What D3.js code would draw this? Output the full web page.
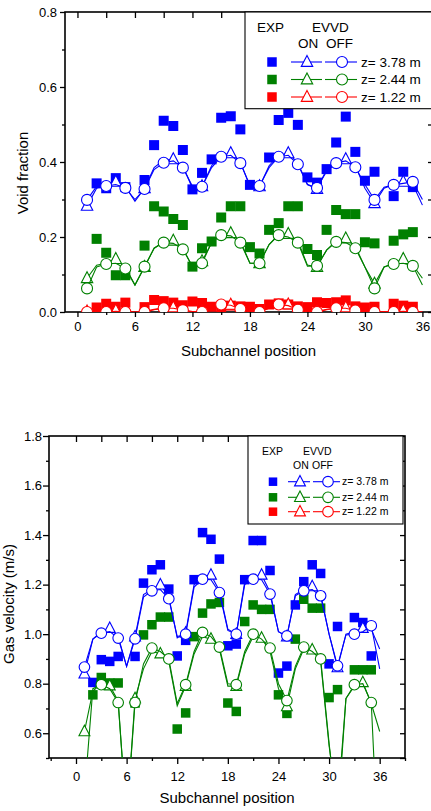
<!DOCTYPE html>
<html>
<head>
<meta charset="utf-8">
<script src="https://cdnjs.cloudflare.com/ajax/libs/d3/7.8.5/d3.min.js"></script>
<style>
body{margin:0;background:#fff;overflow:hidden}
text{font-family:Arial,"Liberation Sans",sans-serif;fill:#000}
</style>
</head>
<body>
<svg id="chart" width="431" height="811"></svg>
<script>
// subchannel positions of the model curves and of the measurements
var modelPos = [1,2,3,4,5,6,7,8,9,10,11,12,13,14,15,16,17,18,19,20,21,22,23,24,25,26,27,28,29,30,31,32,33,34,35,36];
var expPos = [2,3,4,5,7,8,9,10,11,12,13,14,15,16,17,18,19,20,21,22,23,24,25,26,27,28,29,30,31,33,34,35];

var xMajor = [0,6,12,18,24,30,36];
var legendLabels = ["z= 3.78 m","z= 2.44 m","z= 1.22 m"];
var colors = ["#0000ff","#008000","#ff0000"];

// void fraction, measured (null = no point)
var voidExp378 = [0.343,0.33,0.357,0.333,0.352,0.445,0.51,0.496,0.432,0.327,0.371,0.407,0.518,0.522,0.487,0.339,null,0.412,0.512,0.531,0.499,0.359,0.345,0.381,0.452,0.521,0.427,0.35,0.374,0.309,0.374,0.333];
var voidExp244 = [0.195,0.158,0.098,0.098,0.177,0.282,0.268,0.248,0.232,0.121,0.17,0.188,0.252,0.282,0.282,0.173,0.156,0.219,0.237,0.282,0.282,0.168,0.152,0.219,0.272,0.261,0.261,0.186,0.183,0.19,0.207,0.213];
var voidExp122 = [0.012,0.022,0.014,0.025,0.013,0.032,0.029,0.025,0.018,0.028,0.024,0.014,0.013,0.017,0.015,0.014,0.008,0.02,0.023,0.02,0.015,0.013,0.026,0.024,0.026,0.031,0.015,0.012,0.014,0.022,0.017,0.014];

// void fraction, EVVD on / off
var voidOn378 = [0.283,0.33,0.34,0.347,0.335,0.295,0.33,0.385,0.405,0.407,0.39,0.33,0.335,0.39,0.418,0.423,0.4,0.335,0.335,0.39,0.418,0.423,0.397,0.34,0.328,0.38,0.4,0.407,0.39,0.33,0.29,0.33,0.34,0.347,0.34,0.285];
var voidOff378 = [0.299,0.335,0.336,0.34,0.331,0.3,0.328,0.38,0.398,0.403,0.385,0.335,0.334,0.385,0.414,0.418,0.397,0.338,0.336,0.385,0.414,0.418,0.394,0.34,0.331,0.375,0.397,0.403,0.386,0.34,0.299,0.333,0.339,0.343,0.347,0.3];
var voidOn244 = [0.09,0.125,0.13,0.141,0.12,0.072,0.12,0.17,0.187,0.19,0.17,0.12,0.135,0.185,0.207,0.21,0.19,0.13,0.13,0.18,0.207,0.208,0.19,0.125,0.12,0.165,0.19,0.196,0.175,0.12,0.075,0.12,0.13,0.141,0.125,0.09];
var voidOff244 = [0.063,0.12,0.128,0.13,0.116,0.072,0.121,0.17,0.185,0.183,0.167,0.122,0.13,0.185,0.205,0.203,0.185,0.13,0.13,0.18,0.205,0.2,0.185,0.122,0.123,0.165,0.187,0.185,0.17,0.12,0.063,0.12,0.128,0.13,0.123,0.072];
var voidOn122 = [0.001,0.004,0.002,0.004,0.001,0.0,0.002,0.007,0.011,0.012,0.006,0.001,0.002,0.011,0.02,0.019,0.009,0.001,0.001,0.011,0.021,0.02,0.008,0.001,0.001,0.007,0.011,0.012,0.005,0.001,0.0,0.001,0.002,0.004,0.001,0.0];
var voidOff122 = [0.0,0.003,0.0,0.002,0.0,0.0,0.0,0.006,0.01,0.01,0.005,0.0,0.0,0.01,0.02,0.018,0.008,0.0,0.0,0.01,0.02,0.017,0.006,0.0,0.0,0.006,0.01,0.01,0.004,0.0,0.0,0.0,0.0,0.002,0.0,0.0];

// gas velocity, measured
var velExp378 = [0.805,0.897,0.89,0.91,0.91,1.206,1.26,1.28,1.182,0.912,0.975,1.22,1.41,1.383,1.303,0.953,0.96,1.22,1.378,1.378,1.257,0.843,0.871,1.118,1.212,1.28,1.245,0.88,1.031,1.067,1.047,0.912];
var velExp244 = [0.755,0.825,0.803,0.803,0.722,0.997,1.038,1.069,1.069,0.617,0.682,0.99,1.085,1.122,1.128,0.722,0.688,1.051,1.118,1.1,1.1,0.755,0.68,0.98,1.141,1.105,1.105,0.744,0.776,0.856,0.856,0.856];

// gas velocity, EVVD on / off
var velOn378 = [0.84,0.98,1.01,1.024,0.99,0.87,0.99,1.16,1.18,1.199,1.15,0.985,1.005,1.2,1.23,1.239,1.175,1.02,1.0,1.21,1.23,1.239,1.17,1.01,0.99,1.16,1.18,1.192,1.16,1.0,0.865,1.0,1.01,1.024,1.02,0.94];
var velOff378 = [0.867,0.98,1.004,1.01,0.984,0.87,0.981,1.15,1.175,1.18,1.143,0.99,1.0,1.19,1.222,1.22,1.168,1.015,1.0,1.2,1.222,1.22,1.162,1.01,0.993,1.155,1.175,1.18,1.155,1.0,0.872,0.997,1.0,1.01,1.034,0.86];
var velOn244 = [0.607,0.77,0.8,0.792,0.73,0.25,0.74,0.86,0.93,0.921,0.89,0.71,0.79,0.92,0.99,0.98,0.94,0.79,0.79,0.92,0.99,0.984,0.93,0.78,0.708,0.86,0.94,0.937,0.89,0.55,0.3,0.74,0.79,0.805,0.72,0.607];
var velOff244 = [0.35,0.78,0.796,0.78,0.724,0.25,0.724,0.88,0.944,0.93,0.9,0.72,0.796,0.93,1.007,0.99,0.948,0.8,0.796,0.93,1.0,0.98,0.944,0.8,0.732,0.87,0.948,0.93,0.9,0.56,0.25,0.74,0.796,0.8,0.724,0.0];

var svg = d3.select("#chart");

function triPath(s){
  return "M0," + (-0.6*s) + "L" + (0.52*s) + "," + (0.4*s) + "L" + (-0.52*s) + "," + (0.4*s) + "Z";
}

function drawPanel(p){
  var x = d3.scaleLinear().domain(p.xDomain).range([p.left, p.right]);
  var y = d3.scaleLinear().domain(p.yDomain).range([p.bottom, p.top]);
  var g = svg.append("g");
  var clipId = "clip" + p.id;
  svg.append("clipPath").attr("id", clipId).append("rect")
    .attr("x", p.left).attr("y", p.top)
    .attr("width", p.right - p.left).attr("height", p.bottom - p.top);

  // axes
  function axis(gen, tx, ty, len, vals, fmt, pad){
    var a = g.append("g").attr("transform", "translate(" + tx + "," + ty + ")")
      .call(gen.tickValues(vals).tickSize(len).tickSizeOuter(0).tickPadding(pad || 3)
        .tickFormat(fmt || ""));
    a.select(".domain").remove();
    a.selectAll("line").attr("stroke", "#000").attr("stroke-width", 1.3);
    a.selectAll("text").style("font-size", p.tickFont + "px").attr("fill", "#000");
    return a;
  }
  axis(d3.axisLeft(y), p.left, 0, p.majorLen, p.yMajor, d3.format(".1f"), p.yPad);
  axis(d3.axisLeft(y), p.left, 0, 3, p.yMinor);
  axis(d3.axisBottom(x), 0, p.bottom, p.majorLen, xMajor, d3.format("d"), p.xPad);
  axis(d3.axisBottom(x), 0, p.bottom, 3, p.xMinor);
  axis(d3.axisTop(x), 0, p.top, -6, p.topTicks);
  axis(d3.axisRight(y), p.right, 0, -p.rightLen, p.yMajor.concat(p.yMinor));

  g.append("rect").attr("x", p.left).attr("y", p.top)
    .attr("width", p.right - p.left).attr("height", p.bottom - p.top)
    .attr("fill", "none").attr("stroke", "#000").attr("stroke-width", 1.6);

  var plot = svg.append("g").attr("clip-path", "url(#" + clipId + ")");

  // measured points
  p.series.forEach(function(s){
    if (!s.exp) return;
    var pts = expPos.map(function(d, i){ return [d, s.exp[i]]; })
      .filter(function(d){ return d[1] !== null; });
    plot.selectAll(null).data(pts).enter().append("rect")
      .attr("x", function(d){ return x(d[0]) - p.sq/2; })
      .attr("y", function(d){ return y(d[1]) - p.sq/2; })
      .attr("width", p.sq).attr("height", p.sq)
      .attr("fill", s.color);
  });

  var line = d3.line().x(function(d){ return x(d[0]); }).y(function(d){ return y(d[1]); });

  // model curves: EVVD on (triangles) then off (circles)
  p.series.forEach(function(s){
    if (!s.on) return;
    var on = modelPos.map(function(d, i){ return [d, s.on[i]]; });
    var off = modelPos.map(function(d, i){ return [d, s.off[i]]; });
    plot.append("path").attr("d", line(on)).attr("fill", "none")
      .attr("stroke", s.color).attr("stroke-width", 1.1);
    plot.selectAll(null).data(on.filter(function(d, i){ return i % 3 === 0; })).enter()
      .append("path").attr("d", triPath(p.tri))
      .attr("transform", function(d){ return "translate(" + x(d[0]) + "," + y(d[1]) + ")"; })
      .attr("fill", "#fff").attr("stroke", s.color).attr("stroke-width", 1.1);
    plot.append("path").attr("d", line(off)).attr("fill", "none")
      .attr("stroke", s.color).attr("stroke-width", 1.1);
    plot.selectAll(null).data(off.filter(function(d, i){ return i % 2 === 0; })).enter()
      .append("circle")
      .attr("cx", function(d){ return x(d[0]); })
      .attr("cy", function(d){ return y(d[1]); })
      .attr("r", p.r).attr("fill", "#fff").attr("stroke", s.color).attr("stroke-width", 1.1);
  });

  // axis titles
  svg.append("text").attr("x", (p.left + p.right)/2).attr("y", p.xTitleY)
    .attr("text-anchor", "middle").style("font-size", p.titleFont + "px").text("Subchannel position");
  svg.append("text")
    .attr("transform", "translate(" + p.yTitleX + "," + p.yTitleY + ") rotate(-90)")
    .attr("text-anchor", "middle").style("font-size", p.titleFont + "px").text(p.yTitle);

  // legend
  var L = p.legend;
  var lg = svg.append("g");
  lg.append("rect").attr("x", L.x).attr("y", L.y).attr("width", L.w).attr("height", L.h)
    .attr("fill", "#fff").attr("stroke", "#000").attr("stroke-width", 1.1);
  function ltext(tx, ty, t){
    lg.append("text").attr("x", tx).attr("y", ty).style("font-size", L.font + "px").text(t);
  }
  ltext(L.expX, L.head1, "EXP");
  ltext(L.evvdX, L.head1, "EVVD");
  ltext(L.onX, L.head2, "ON");
  ltext(L.offX, L.head2, "OFF");
  L.rows.forEach(function(ry, i){
    lg.append("rect").attr("x", L.sqX - L.sq/2).attr("y", ry - L.sq/2)
      .attr("width", L.sq).attr("height", L.sq).attr("fill", colors[i]);
    lg.append("line").attr("x1", L.triL[0]).attr("x2", L.triL[1]).attr("y1", ry).attr("y2", ry)
      .attr("stroke", colors[i]).attr("stroke-width", 1.1);
    lg.append("path").attr("d", triPath(p.tri))
      .attr("transform", "translate(" + L.triX + "," + ry + ")")
      .attr("fill", "#fff").attr("stroke", colors[i]).attr("stroke-width", 1.1);
    lg.append("line").attr("x1", L.cirL[0]).attr("x2", L.cirL[1]).attr("y1", ry).attr("y2", ry)
      .attr("stroke", colors[i]).attr("stroke-width", 1.1);
    lg.append("circle").attr("cx", L.cirX).attr("cy", ry).attr("r", p.r)
      .attr("fill", "#fff").attr("stroke", colors[i]).attr("stroke-width", 1.1);
    ltext(L.textX, ry + L.font*0.36, legendLabels[i]);
  });
}

drawPanel({
  id: "top", left: 65, right: 432, top: 12, bottom: 312,
  xDomain: [-1.3, 37], yDomain: [0, 0.8],
  yMajor: [0, 0.2, 0.4, 0.6, 0.8], yMinor: [0.1, 0.3, 0.5, 0.7],
  xMinor: [3, 9, 15, 21, 27, 33], topTicks: [0,3,6,9,12,15,18,21,24,27,30,33,36],
  majorLen: 5, rightLen: 4, yPad: 3, xPad: 5, tickFont: 13, titleFont: 15,
  sq: 10, r: 5.5, tri: 11,
  xTitleY: 356, yTitle: "Void fraction", yTitleX: 27.5, yTitleY: 173,
  series: [
    {color: colors[0], exp: voidExp378, on: voidOn378, off: voidOff378},
    {color: colors[1], exp: voidExp244, on: voidOn244, off: voidOff244},
    {color: colors[2], exp: voidExp122, on: voidOn122, off: voidOff122}
  ],
  legend: {x: 245, y: 12, w: 200, h: 96.7, font: 13.5, head1: 32, head2: 48,
    expX: 257, evvdX: 312, onX: 298, offX: 326,
    rows: [62, 79.5, 97], sq: 9.5, sqX: 272, triL: [291, 322], triX: 307,
    cirL: [325, 357], cirX: 342, textX: 361}
});

drawPanel({
  id: "bottom", left: 49, right: 405, top: 436, bottom: 758,
  xDomain: [-3.2, 39], yDomain: [0.5, 1.8],
  yMajor: [0.6, 0.8, 1.0, 1.2, 1.4, 1.6, 1.8], yMinor: [0.5, 0.7, 0.9, 1.1, 1.3, 1.5, 1.7],
  xMinor: [-3, 3, 9, 15, 21, 27, 33, 39], topTicks: [0,3,6,9,12,15,18,21,24,27,30,33,36],
  majorLen: 6, rightLen: 5, yPad: 1, xPad: 8, tickFont: 13, titleFont: 15,
  sq: 9.5, r: 5.3, tri: 10.5,
  xTitleY: 803, yTitle: "Gas velocity (m/s)", yTitleX: 14, yTitleY: 604,
  series: [
    {color: colors[0], exp: velExp378, on: velOn378, off: velOff378},
    {color: colors[1], exp: velExp244, on: velOn244, off: velOff244}
  ],
  legend: {x: 248, y: 436, w: 155, h: 88, font: 10.5, head1: 455, head2: 469,
    expX: 262, evvdX: 303, onX: 293, offX: 312,
    rows: [481.7, 497.3, 511.7], sq: 8.5, sqX: 273, triL: [288, 310], triX: 300,
    cirL: [313, 340], cirX: 328, textX: 342}
});
</script>
</body>
</html>
